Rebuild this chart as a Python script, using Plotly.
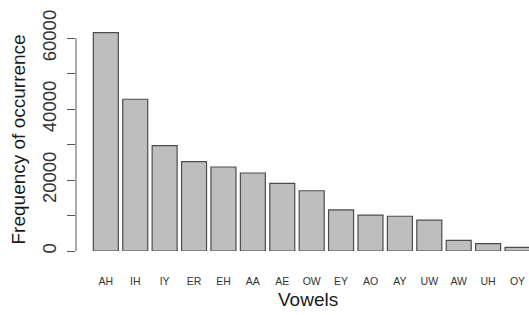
import plotly.graph_objects as go

vowels = ["AH", "IH", "IY", "ER", "EH", "AA", "AE", "OW", "EY", "AO", "AY", "UW", "AW", "UH", "OY"]
frequency = [61600, 42800, 29700, 25200, 23700, 22000, 19100, 17000, 11600, 10100, 9800, 8700, 3000, 2100, 1000]
y_tick_values = [0, 10000, 20000, 30000, 40000, 50000, 60000]
y_tick_labels = ["0", "", "20000", "", "40000", "", "60000"]

FONT = "Liberation Sans, Arial, sans-serif"
AXIS_COL = "#555555"
Y_MAX = 65162

fig = go.Figure(go.Bar(
    x=vowels,
    y=frequency,
    marker=dict(color="#bebebe", line=dict(color="#4d4d4d", width=1.2)),
    hoverinfo="x+y",
))

fig.update_layout(
    width=529, height=315,
    margin=dict(l=76, r=0, t=20, b=64, autoexpand=False),
    paper_bgcolor="white", plot_bgcolor="white",
    bargap=0.15,
    showlegend=False,
    font=dict(family=FONT, color="#1a1a1a"),
    xaxis=dict(
        type="category", automargin=False,
        range=[-1.014, 14.39],
        showline=False, showgrid=False, zeroline=False,
        ticks="", tickfont=dict(size=10.5, color="#333333"),
        ticklabelstandoff=22,
    ),
    yaxis=dict(
        automargin=False,
        range=[0, Y_MAX],
        showline=False, showgrid=False, zeroline=False,
        tickmode="array", tickvals=y_tick_values, ticktext=y_tick_labels,
        ticks="outside", ticklen=8, tickcolor=AXIS_COL, tickwidth=1,
        tickangle=-90,
        tickfont=dict(size=18.5, color="#333333"),
        ticklabelstandoff=4,
    ),
    shapes=[dict(
        type="line", xref="paper", yref="paper",
        x0=0, x1=0, y0=y_tick_values[0] / Y_MAX, y1=y_tick_values[-1] / Y_MAX,
        line=dict(color=AXIS_COL, width=1),
    )],
    annotations=[
        dict(text="Vowels", xref="paper", yref="paper",
             x=(308 - 76) / 453, y=(251 - 299) / 231,
             xanchor="center", yanchor="middle", showarrow=False,
             font=dict(size=19, family=FONT, color="#1a1a1a")),
        dict(text="Frequency of occurrence", xref="paper", yref="paper",
             x=(17.5 - 76) / 453, y=(251 - 140) / 231, textangle=-90,
             xanchor="center", yanchor="middle", showarrow=False,
             font=dict(size=19, family=FONT, color="#1a1a1a")),
    ],
)

fig.write_html(
    "out.html",
    config={"displayModeBar": False},
    post_script="document.body.style.margin='0';document.body.style.overflow='hidden';",
)
